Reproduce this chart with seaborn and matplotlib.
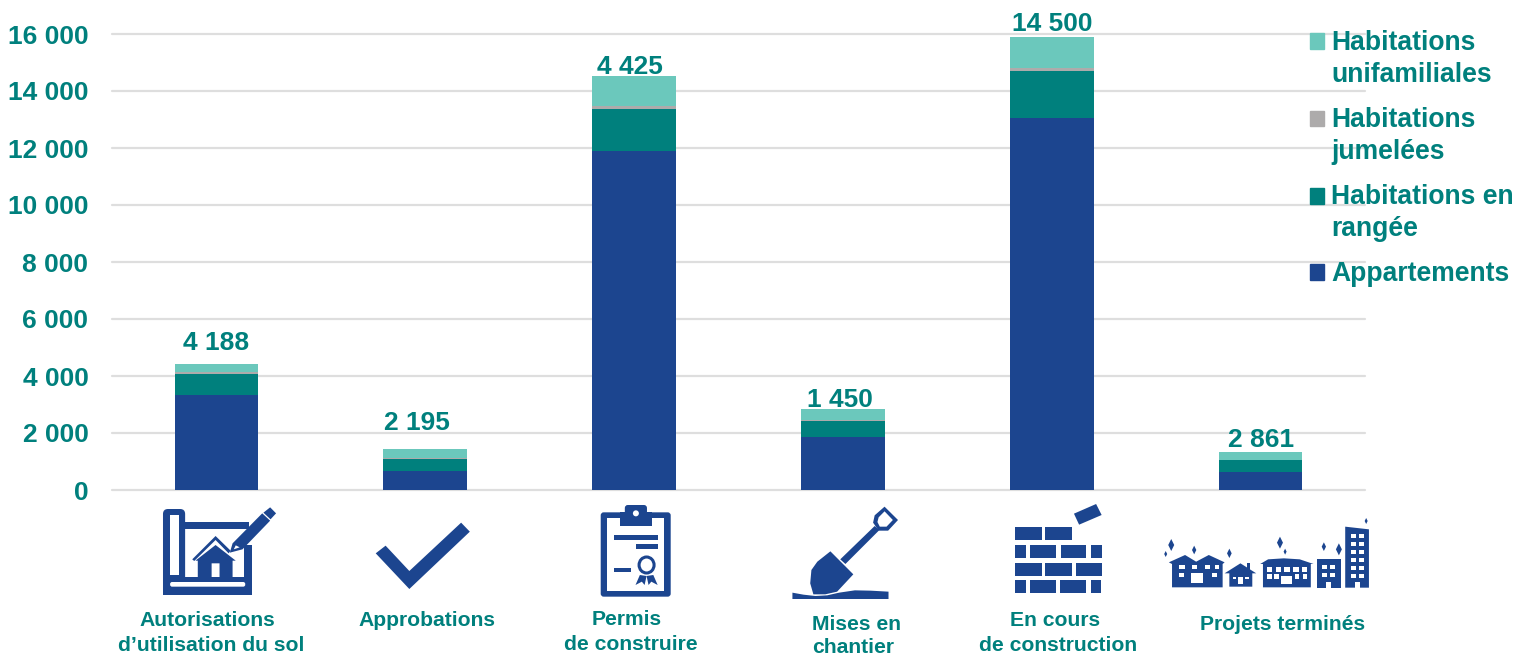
import numpy as np
import pandas as pd
import matplotlib
matplotlib.use("Agg")
import matplotlib.pyplot as plt
from matplotlib.patches import Polygon, Rectangle, FancyBboxPatch, Ellipse, Circle, Patch
import seaborn as sns

categories = ["Autorisations\nd\u2019utilisation du sol", "Approbations", "Permis\nde construire",
              "Mises en\nchantier", "En cours\nde construction", "Projets termin\u00e9s"]
appartements = [3340, 655, 11880, 1870, 13066, 625]
rangee = [745, 435, 1480, 550, 1627, 425]
jumelees = [60, 40, 120, 30, 129, 20]
unifamiliales = [292, 320, 1030, 405, 1088, 270]
total_labels = ["4 188", "2 195", "4 425", "1 450", "14 500", "2 861"]
yticks = [0, 2000, 4000, 6000, 8000, 10000, 12000, 14000, 16000]
ytick_labels = ["0", "2 000", "4 000", "6 000", "8 000", "10 000", "12 000", "14 000", "16 000"]
series_names = ["Appartements", "Habitations en\nrang\u00e9e", "Habitations\njumel\u00e9es", "Habitations\nunifamiliales"]

BLUE, TEAL, GREY, MINT = "#1C458F", "#00807D", "#ADABAB", "#6BC8BC"
GRID = "#DEDEDE"
W, H = 1527, 654

sns.set_theme(style="white")
plt.rcParams["font.family"] = ["Liberation Sans", "DejaVu Sans"]
plt.rcParams["font.weight"] = "bold"

fig = plt.figure(figsize=(W / 100, H / 100), dpi=100)
ax = fig.add_axes([112 / W, (H - 490) / H, 1253 / W, 456 / H])

df = pd.DataFrame({"cat": categories, "a": appartements, "r": rangee, "j": jumelees, "u": unifamiliales})
stack = df[["a", "r", "j", "u"]].cumsum(axis=1)
for col, c in zip(["u", "j", "r", "a"], [MINT, GREY, TEAL, BLUE]):
    sns.barplot(x=df["cat"], y=stack[col], color=c, saturation=1, width=0.4, ax=ax, zorder=3, linewidth=0)

ax.set_xlim(-0.5, 5.5)
ax.set_ylim(0, 16000)
ax.set_xlabel("")
ax.set_ylabel("")
ax.set_xticks(range(6))
ax.set_xticklabels([])
ax.set_yticks(yticks)
ax.set_yticklabels(ytick_labels, fontsize=19, color=TEAL, fontweight="bold")
ax.tick_params(axis="both", length=0)
ax.tick_params(axis="y", pad=17)
ax.grid(axis="y", color=GRID, lw=1.6, zorder=0)
for gl in ax.get_ygridlines():
    gl.set_clip_on(False)
ax.set_axisbelow(True)
sns.despine(ax=ax, left=True, bottom=True, top=True, right=True)

label_shift = [(0, 14), (-8, 19), (-4, 2), (-3, 2), (1, 6), (0, 5)]
for i, (lab, top, sh) in enumerate(zip(total_labels, stack["u"], label_shift)):
    ax.annotate(lab, (i, top), xytext=sh, textcoords="offset pixels", ha="center", va="baseline",
                fontsize=19, color=TEAL, fontweight="bold", annotation_clip=False, zorder=5)

handles = [Patch(color=c) for c in [MINT, GREY, TEAL, BLUE]]
leg = fig.legend(handles, series_names[::-1], loc="upper left", bbox_to_anchor=(1310 / W, 1 - 29.5 / H),
                 frameon=False, labelcolor=TEAL, handlelength=0.53, handleheight=0.53,
                 handletextpad=0.27, labelspacing=0.72, borderpad=0, borderaxespad=0,
                 prop={"family": "Liberation Sans", "weight": "bold", "size": 19.1})
for t in leg.get_texts():
    t.set_linespacing(1.31)
    t.set_color(TEAL)
for h, shift in zip(leg.legend_handles, [13, 13, 13, 0]):
    h.set_y(h.get_y() + shift)

# overlay in pixel coordinates for the pictograms and category captions
ov = fig.add_axes([0, 0, 1, 1], zorder=10)
ov.set_xlim(0, W)
ov.set_ylim(H, 0)
ov.axis("off")
ov.patch.set_alpha(0)

SX, SY = 2.529, 3.0


def mapper(bx):
    return lambda p: [(bx + x / SX, 490 + y / SY) for x, y in p]


def poly(m, pts, c=BLUE):
    ov.add_patch(Polygon(m(pts), closed=True, fc=c, ec="none"))


def box(m, x0, y0, x1, y1, c=BLUE):
    poly(m, [(x0, y0), (x1, y0), (x1, y1), (x0, y1)], c)


def rbox(m, x0, y0, x1, y1, c=BLUE, r=4):
    (a, b), (d, e) = m([(x0, y0), (x1, y1)])
    ov.add_patch(FancyBboxPatch((a + r, b + r), d - a - 2 * r, e - b - 2 * r,
                                boxstyle=f"round,pad={r},rounding_size={r}", fc=c, ec="none"))


WHITE = "white"
# Icon 1: blueprint
m = mapper(110)
rbox(m, 134, 57, 190, 314, r=5)
box(m, 134, 262, 360, 314)
box(m, 190, 95, 352, 118)
box(m, 340, 165, 360, 314)
box(m, 152, 75, 175, 255, WHITE)
rbox(m, 152, 276, 342, 290, WHITE, r=2)
poly(m, [(208, 208), (267, 138), (305, 182), (300, 190), (267, 150), (213, 213)])
poly(m, [(267, 165), (318, 212), (310, 212), (310, 265), (277, 265), (277, 220), (257, 220), (257, 265),
         (222, 265), (222, 212), (216, 212)])
poly(m, [(303, 188), (310, 160), (385, 70), (405, 92), (335, 178)])
poly(m, [(313, 178), (318, 166), (328, 172)], WHITE)
poly(m, [(388, 68), (405, 52), (420, 70), (406, 88)])
# Icon 2: check mark
poly(m, [(672, 190), (697, 167), (757, 243), (888, 98), (910, 125), (757, 297)])
# Icon 3: clipboard
rbox(m, 1241, 67, 1418, 320, r=3)
box(m, 1258, 85, 1402, 303, WHITE)
box(m, 1290, 67, 1370, 108)
rbox(m, 1302, 45, 1358, 80, r=3)
(cx, cy), = m([(1330, 70)])
ov.add_patch(Circle((cx, cy), 3, fc=WHITE, ec="none"))
box(m, 1275, 134, 1385, 149)
box(m, 1330, 161, 1385, 176)
box(m, 1275, 233, 1318, 247)
(cx, cy), = m([(1357, 225)])
ov.add_patch(Ellipse((cx, cy), 15, 16, fc="none", ec=BLUE, lw=2.2))
poly(m, [(1340, 255), (1329, 285), (1345, 275), (1352, 285), (1357, 258)])
poly(m, [(1374, 255), (1385, 285), (1369, 275), (1362, 285), (1357, 258)])

# Icon 4: shovel
m = mapper(760)
poly(m, [(178, 184), (236, 253), (195, 305), (165, 313), (135, 313), (127, 280), (130, 240), (145, 215)])
poly(m, [(203, 208), (290, 108), (302, 120), (216, 222)])
poly(m, [(315, 50), (349, 90), (324, 122), (300, 122), (286, 98), (290, 76)])
poly(m, [(315, 64), (336, 90), (320, 110), (303, 110), (297, 96), (300, 82)], WHITE)
poly(m, [(82, 308), (110, 314), (140, 318), (170, 316), (200, 308), (240, 301), (280, 302), (325, 305),
         (325, 327), (82, 327)])

# Icon 5: bricks
poly(m, [(794, 71), (850, 42), (864, 75), (807, 104)])
for y0, y1, xs in [(111, 150, [(645, 712), (722, 788)]),
                   (165, 204, [(645, 673), (683, 749), (761, 825), (838, 865)]),
                   (219, 258, [(645, 712), (722, 788), (799, 865)]),
                   (270, 309, [(645, 673), (684, 749), (759, 825), (838, 863)])]:
    for x0, x1 in xs:
        box(m, x0, y0, x1, y1)

# Icon 6: neighbourhood
poly(m, [(1034, 217), (1075, 195), (1103, 215), (1135, 195), (1175, 217), (1170, 222), (1170, 292), (1042, 292), (1042, 222)])
for x0, x1 in [(1060, 1074), (1092, 1106), (1125, 1137), (1150, 1162)]:
    box(m, x0, 226, x1, 238, WHITE)
box(m, 1060, 250, 1072, 262, WHITE)
box(m, 1142, 250, 1156, 262, WHITE)
box(m, 1090, 248, 1120, 278, WHITE)
box(m, 1232, 220, 1240, 240)
poly(m, [(1175, 250), (1215, 220), (1255, 250), (1245, 250), (1245, 290), (1187, 290), (1187, 250)])
for x0, x1 in [(1195, 1205), (1226, 1236)]:
    box(m, x0, 260, x1, 268, WHITE)
box(m, 1210, 260, 1222, 282, WHITE)
poly(m, [(1265, 222), (1285, 208), (1325, 205), (1365, 208), (1400, 222), (1393, 222), (1393, 292), (1272, 292), (1272, 222)])
for k in range(5):
    x0 = 1282 + k * 22
    box(m, x0, 230, x0 + 14, 245, WHITE)
for x0 in [1282, 1300, 1352, 1372]:
    box(m, x0, 253, x0 + 12, 268, WHITE)
box(m, 1318, 258, 1345, 282, WHITE)
box(m, 1408, 208, 1470, 293)
for x0 in [1422, 1442]:
    for y0 in [226, 250]:
        box(m, x0, y0, x0 + 11, y0 + 12, WHITE)
box(m, 1432, 275, 1444, 293, WHITE)
poly(m, [(1480, 110), (1540, 118), (1540, 293), (1480, 293)])
for x0 in [1495, 1516]:
    for y0 in [132, 156, 180, 204, 228, 252]:
        box(m, x0, y0, x0 + 12, y0 + 12, WHITE)
box(m, 1505, 275, 1517, 293, WHITE)
for x, y, r in [(1040, 165, 18), (1026, 192, 9), (1098, 180, 13), (1187, 190, 14), (1315, 158, 18), (1328, 185, 9),
                (1426, 170, 13), (1464, 178, 18), (1533, 93, 9)]:
    rx = r * 0.42
    poly(m, [(x, y - r), (x + rx, y), (x, y + r), (x - rx, y)])

# category captions
caption_pos = [[(207, 626), (211, 651)], [(427, 626)], [(627, 625), (631, 650)],
               [(857, 630), (853, 653)], [(1055, 626), (1058, 651)], [(1283, 630)]]
for cat, pos in zip(categories, caption_pos):
    for line, (x, y) in zip(cat.split("\n"), pos):
        ov.text(x, y, line, ha="center", va="baseline", fontsize=15.2, color=TEAL, fontweight="bold")

fig.savefig("out.png", dpi=100, facecolor="white")
